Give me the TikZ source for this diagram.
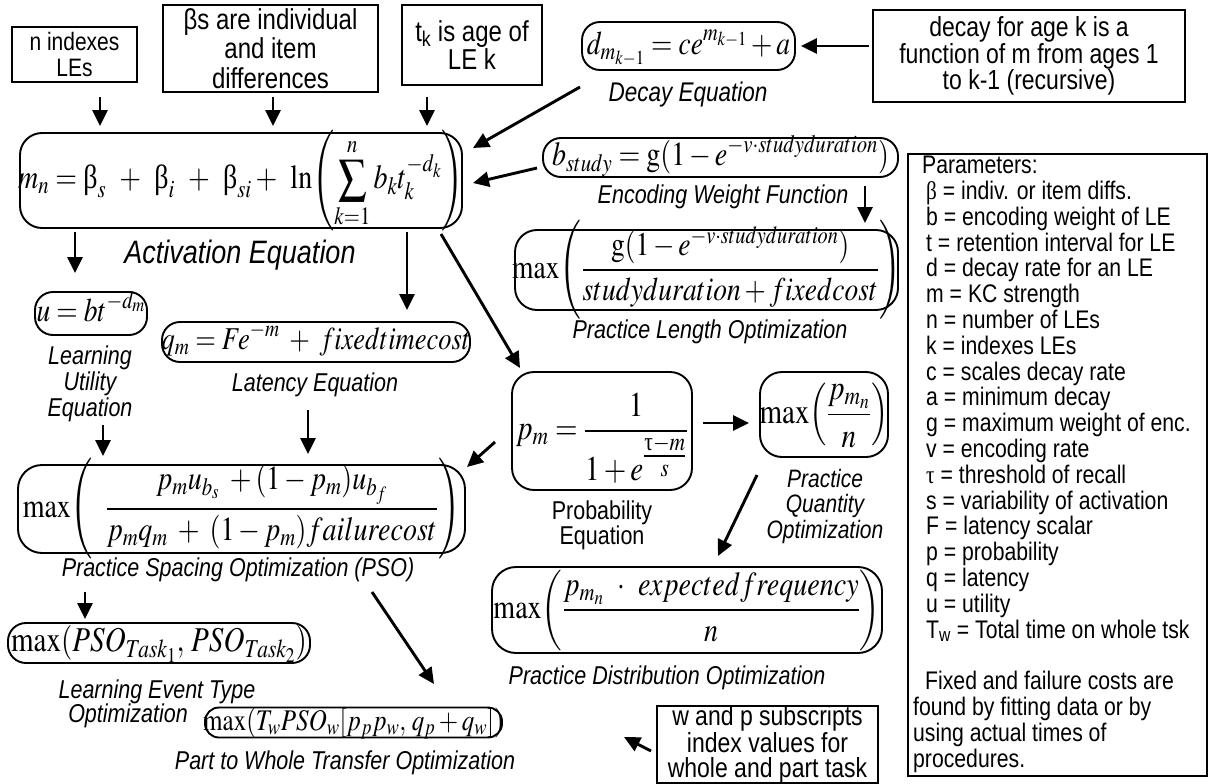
\documentclass[tikz,border=0pt]{standalone}
\usepackage{mathptmx}
\usepackage{amsmath}
\usepackage[no-math]{fontspec}
\setmainfont{Liberation Sans}
\newfontfamily\tnr{Liberation Serif}
\usetikzlibrary{arrows.meta}
\newcommand{\vs}[1]{\scalebox{1}[1.2]{#1}}
\newcommand{\eqn}[1]{\makebox[0pt]{\raisebox{-0.3em}[0pt][0pt]{\scalebox{1}[1.2]{$\displaystyle #1$}}}}
\newcommand{\ub}{\mathord{\text{\tnr β}}}
\newcommand{\ut}{\mathord{\text{\tnr τ}}}
\tikzset{
 tbox/.style={draw, line width=1.5pt, align=center, inner sep=0pt},
 ebox/.style={draw, line width=1.9pt, rounded corners=18pt, inner sep=0pt, font=\fontsize{28}{34}\selectfont},
 lab/.style={align=center, inner sep=0pt, font=\fontsize{21.5}{25}\selectfont\itshape},
 arr/.style={line width=2.9pt, -{Triangle[length=16pt,width=15pt]}},
}
\begin{document}
\begin{tikzpicture}[x=1pt,y=-1pt]
\useasboundingbox (0,0) rectangle (1213,784);
\fill[white] (0,0) rectangle (1213,784);

% top explanatory boxes
\node[tbox, minimum width=125, minimum height=55, font=\fontsize{21}{26}\selectfont] (nbox) at (74.5,54.5) {\vs{n indexes}\\\vs{LEs}};
\node[tbox, minimum width=215, minimum height=87, font=\fontsize{24}{29.5}\selectfont] (bbox) at (270.5,48.5) {\vs{βs are individual}\\\vs{and item}\\\vs{differences}};
\node[tbox, minimum width=140, minimum height=80, font=\fontsize{24}{28}\selectfont] (tkbox) at (472,45) {\vs{t\textsubscript{k} is age of}\\\vs{LE k}};
\node[tbox, minimum width=312, minimum height=92, font=\fontsize{23}{25.5}\selectfont] (decx) at (1029,56) {\vs{decay for age k is a}\\\vs{function of m from ages 1}\\\vs{to k-1 (recursive)}};

% decay equation
\node[ebox, minimum width=213, minimum height=48, font=\fontsize{27.5}{34}\selectfont] (decay) at (688.5,46) {\eqn{d_{m_{k-1}} = ce^{m_{k-1}} + a}};
\node[lab, font=\fontsize{22.5}{25}\selectfont\itshape] (decayl) at (688,95) {\vs{Decay Equation}};

% activation
\node[ebox, minimum width=442, minimum height=95, rounded corners=22pt] (act) at (241,180.5) {\eqn{m_n = \ub_s \;\,+\;\, \ub_i \;\,+\;\, \ub_{si} +\;\, \ln\!\left(\sum_{k=1}^{n} b_k t_k^{-d_k}\right)}};
\node[lab, font=\fontsize{27}{30}\selectfont\itshape] (actl) at (240,255) {\vs{Activation Equation}};

% encoding weight
\node[ebox, minimum width=355, minimum height=39] (bst) at (720.5,157.5) {\eqn{b_{study} = \mathrm{g}(1 - e^{-v\cdot studyduration})}};
\node[lab] (bstl) at (723,197) {\vs{Encoding Weight Function}};

% practice length
\node[ebox, minimum width=383, minimum height=80, rounded corners=22pt, font=\fontsize{27.5}{34}\selectfont] (plen) at (706.5,270) {\eqn{\max\!\left(\frac{\mathrm{g}(1 - e^{-v\cdot studyduration})}{studyduration + fixedcost}\right)}};
\node[lab] (plenl) at (710,332) {\vs{Practice Length Optimization}};

% learning utility
\node[ebox, minimum width=112, minimum height=43, font=\fontsize{27.5}{34}\selectfont] (util) at (91,313.5) {\eqn{u = bt^{-d_m}}};
\node[lab, font=\fontsize{21.5}{26}\selectfont\itshape] (utill) at (90,384) {\vs{Learning}\\\vs{Utility}\\\vs{Equation}};

% latency
\node[ebox, minimum width=308, minimum height=40, font=\fontsize{26.5}{34}\selectfont] (lat) at (316,342) {\eqn{q_m = Fe^{-m} \;+\; fixedtimecost}};
\node[lab] (latl) at (315,385) {\vs{Latency Equation}};

% probability
\node[ebox, minimum width=180, minimum height=118, rounded corners=22pt, font=\fontsize{29}{34}\selectfont] (prob) at (602,431) {\eqn{p_m = \frac{1}{1 + e^{\textstyle\frac{\ut - m}{s}}}}};
\node[lab, font=\fontsize{21.5}{25}\selectfont] (probl) at (602,525) {\vs{Probability}\\\vs{Equation}};

% practice quantity
\node[ebox, minimum width=128, minimum height=85, rounded corners=22pt, font=\fontsize{29}{34}\selectfont] (pq) at (824,414.5) {\eqn{\max\!\left(\frac{p_{m_n}}{n}\right)}};
\node[lab, font=\fontsize{21}{25.5}\selectfont\itshape] (pql) at (825,506) {\vs{Practice}\\\vs{Quantity}\\\vs{Optimization}};

% PSO
\node[ebox, minimum width=447, minimum height=88, rounded corners=24pt] (pso) at (241.5,509) {\eqn{\max\!\left(\;\;\frac{p_m u_{b_s} \;+ (1 - p_m) u_{b_f}}{p_m q_m \;+\; (1 - p_m) failurecost}\right)}};
\node[lab] (psol) at (238,570) {\vs{Practice Spacing Optimization (PSO)}};

% learning event type
\node[ebox, minimum width=302, minimum height=40, font=\fontsize{29}{34}\selectfont] (let) at (159,643) {\eqn{\max(PSO_{Task_1},\, PSO_{Task_2})}};
\node[lab] (letl) at (157,692) {\vs{Learning Event Type}};
\node[lab] (letl2) at (128,716) {\vs{Optimization}};

% practice distribution
\node[ebox, minimum width=390, minimum height=86, rounded corners=24pt] (dist) at (687,610) {\eqn{\max\!\left(\frac{p_{m_n}\;\,\cdot\;\, expectedfrequency}{n}\right)}};
\node[lab] (distl) at (667,678) {\vs{Practice Distribution Optimization}};

% part to whole
\node[ebox, minimum width=297, minimum height=30, rounded corners=14pt, font=\fontsize{25}{30}\selectfont] (part) at (353.5,722.5) {\eqn{\max(T_w PSO_w[p_p p_w,\, q_p + q_w])}};
\node[lab] (partl) at (345,763) {\vs{Part to Whole Transfer Optimization}};

\node[tbox, minimum width=221, minimum height=75, font=\fontsize{23}{25}\selectfont] (wbox) at (767.5,744.5) {\vs{w and p subscripts}\\\vs{index values for}\\\vs{whole and part task}};

% parameters
\node[draw, line width=1.5pt, minimum width=299, minimum height=622, inner sep=0pt] (pbox) at (1057.5,465) {};
\node[anchor=north west, align=left, inner sep=0pt, font=\fontsize{21.2}{25.8}\selectfont] (ptext) at (913,156) {%
\vs{\hspace*{9pt}Parameters:}\\
\vs{\hspace*{13pt}{\tnr β} = indiv. or item diffs.}\\
\vs{\hspace*{13pt}b = encoding weight of LE}\\
\vs{\hspace*{13pt}t = retention interval for LE}\\
\vs{\hspace*{13pt}d = decay rate for an LE}\\
\vs{\hspace*{13pt}m = KC strength}\\
\vs{\hspace*{13pt}n = number of LEs}\\
\vs{\hspace*{13pt}k = indexes LEs}\\
\vs{\hspace*{13pt}c = scales decay rate}\\
\vs{\hspace*{13pt}a = minimum decay}\\
\vs{\hspace*{13pt}g = maximum weight of enc.}\\
\vs{\hspace*{13pt}v = encoding rate}\\
\vs{\hspace*{13pt}{\tnr τ} = threshold of recall}\\
\vs{\hspace*{13pt}s = variability of activation}\\
\vs{\hspace*{13pt}F = latency scalar}\\
\vs{\hspace*{13pt}p = probability}\\
\vs{\hspace*{13pt}q = latency}\\
\vs{\hspace*{13pt}u = utility}\\
\vs{\hspace*{13pt}T\textsubscript{w} = Total time on whole tsk}\\
\mbox{}\\
\vs{\hspace*{12pt}Fixed and failure costs are}\\
\vs{found by fitting data or by}\\
\vs{using actual times of}\\
\vs{procedures.}};

% arrow end points
\coordinate (a1s) at (100,97);  \coordinate (a1e) at (100,126);
\coordinate (a2s) at (273,97);  \coordinate (a2e) at (273,126);
\coordinate (a3s) at (427,97);  \coordinate (a3e) at (427,126);
\coordinate (a5s) at (580,87);  \coordinate (a5e) at (473,148);
\coordinate (a6s) at (537,168); \coordinate (a6e) at (473,183);
\coordinate (a7s) at (865,186); \coordinate (a7e) at (865,223);
\coordinate (a8s) at (75,232);  \coordinate (a8e) at (75,273);
\coordinate (a9s) at (407,232); \coordinate (a9e) at (407,310);
\coordinate (a10s) at (441,234); \coordinate (a10e) at (520,368);
\coordinate (a11s) at (103,425); \coordinate (a11e) at (103,456);
\coordinate (a12s) at (308,410); \coordinate (a12e) at (308,454);
\coordinate (a13s) at (703,423); \coordinate (a13e) at (749,423);
\coordinate (a14s) at (495,442); \coordinate (a14e) at (467,467);
\coordinate (a15s) at (757,475); \coordinate (a15e) at (718,556);
\coordinate (a16s) at (85,592);  \coordinate (a16e) at (85,619);
\coordinate (a17s) at (372,592); \coordinate (a17e) at (434,684);
\coordinate (a18s) at (651,751); \coordinate (a18e) at (624,737);

\draw[arr] (a1s) -- (a1e);
\draw[arr] (a2s) -- (a2e);
\draw[arr] (a3s) -- (a3e);
\draw[arr, shorten <=3pt, shorten >=5pt] (decx.west |- decay.east) -- (decay.east);
\draw[arr] (a5s) -- (a5e);
\draw[arr] (a6s) -- (a6e);
\draw[arr] (a7s) -- (a7e);
\draw[arr] (a8s) -- (a8e);
\draw[arr] (a9s) -- (a9e);
\draw[arr] (a10s) -- (a10e);
\draw[arr] (a11s) -- (a11e);
\draw[arr] (a12s) -- (a12e);
\draw[arr] (a13s) -- (a13e);
\draw[arr] (a14s) -- (a14e);
\draw[arr] (a15s) -- (a15e);
\draw[arr] (a16s) -- (a16e);
\draw[arr] (a17s) -- (a17e);
\draw[arr] (a18s) -- (a18e);
\end{tikzpicture}
\end{document}
